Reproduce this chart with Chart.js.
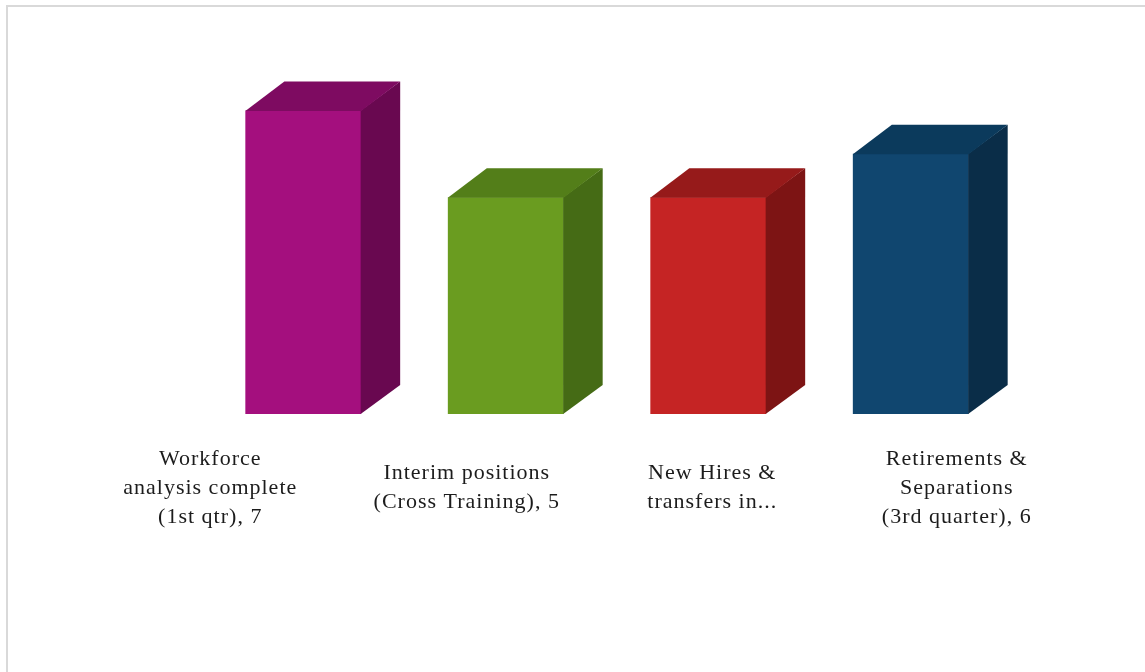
<!DOCTYPE html>
<html>
<head>
<meta charset="utf-8">
<script src="https://cdn.jsdelivr.net/npm/chart.js@4.4.0/dist/chart.umd.min.js"></script>
<style>
  html, body { margin: 0; padding: 0; background: #fff; overflow: hidden; }
  #frame { position: absolute; left: 6px; top: 5px; width: 1200px; height: 720px; border: 2px solid #d9d9d9; box-sizing: border-box; }
  #wrap { position: absolute; left: 0; top: 0; width: 1145px; height: 672px; }
</style>
</head>
<body>
<div id="frame"></div>
<div id="wrap"><canvas id="myChart" width="1145" height="672"></canvas></div>
<script>
// data
const categories = [
  "Workforce analysis complete (1st qtr)",
  "Interim positions (Cross Training)",
  "New Hires & transfers in...",
  "Retirements & Separations (3rd quarter)"
];
const values = [7, 5, 5, 6];
// label text as it is wrapped under the bars
const labelLines = [
  ["Workforce", "analysis complete", "(1st qtr), 7"],
  ["Interim positions", "(Cross Training), 5"],
  ["New Hires &", "transfers in..."],
  ["Retirements &", "Separations", "(3rd quarter), 6"]
];
const frontColors = ["#a40f7e", "#6a9c20", "#c52424", "#10466f"];
const sideColors = ["#690850", "#456b15", "#7d1414", "#0a2d48"];
const topColors = ["#7e0b61", "#537e19", "#961a1a", "#0b3a5c"];

// draws the side and top faces of each bar
const boxes3d = {
  id: 'boxes3d',
  afterDatasetsDraw(chart, args, opts) {
    const ctx = chart.ctx;
    const meta = chart.getDatasetMeta(0);
    meta.data.forEach((bar, i) => {
      const p = bar.getProps(['x', 'y', 'base', 'width'], true);
      const l = p.x - p.width / 2, r = p.x + p.width / 2;
      ctx.save();
      ctx.fillStyle = sideColors[i];
      ctx.beginPath();
      ctx.moveTo(r - 0.5, p.y);
      ctx.lineTo(r + opts.dx, p.y - opts.dy);
      ctx.lineTo(r + opts.dx, p.base - opts.dy);
      ctx.lineTo(r - 0.5, p.base);
      ctx.closePath();
      ctx.fill();
      ctx.fillStyle = topColors[i];
      ctx.beginPath();
      ctx.moveTo(l, p.y + 0.5);
      ctx.lineTo(l + opts.dx, p.y - opts.dy);
      ctx.lineTo(r + opts.dx, p.y - opts.dy);
      ctx.lineTo(r, p.y + 0.5);
      ctx.closePath();
      ctx.fill();
      ctx.restore();
    });
  }
};

// category labels under the bars
const barLabels = {
  id: 'barLabels',
  afterDraw(chart, args, opts) {
    const ctx = chart.ctx;
    const meta = chart.getDatasetMeta(0);
    ctx.save();
    ctx.font = opts.font;
    ctx.fillStyle = opts.color;
    ctx.letterSpacing = opts.spacing;
    ctx.textAlign = 'center';
    ctx.textBaseline = 'middle';
    meta.data.forEach((bar, i) => {
      const lines = labelLines[i];
      const cx = bar.x + opts.shift[i];
      const y0 = opts.centerY - (lines.length - 1) * opts.lineHeight / 2;
      lines.forEach((t, k) => ctx.fillText(t, cx, y0 + k * opts.lineHeight));
    });
    ctx.restore();
  }
};

new Chart(document.getElementById('myChart').getContext('2d'), {
  type: 'bar',
  data: {
    labels: categories,
    datasets: [{
      data: values,
      backgroundColor: frontColors,
      borderWidth: 0,
      barPercentage: 0.572,
      categoryPercentage: 1
    }]
  },
  options: {
    responsive: false,
    animation: false,
    layout: { padding: { left: 202, right: 133, top: 67, bottom: 258 } },
    scales: {
      x: { display: false },
      y: { display: false, min: 0, max: 8 }
    },
    plugins: {
      legend: { display: false },
      tooltip: { enabled: false },
      boxes3d: { dx: 39, dy: 29 },
      barLabels: {
        font: '22px "Liberation Serif", serif',
        color: '#1c1c1c',
        spacing: '1px',
        lineHeight: 29,
        centerY: 488,
        shift: [-93, -39, 4, 46]
      }
    }
  },
  plugins: [boxes3d, barLabels]
});
</script>
</body>
</html>
